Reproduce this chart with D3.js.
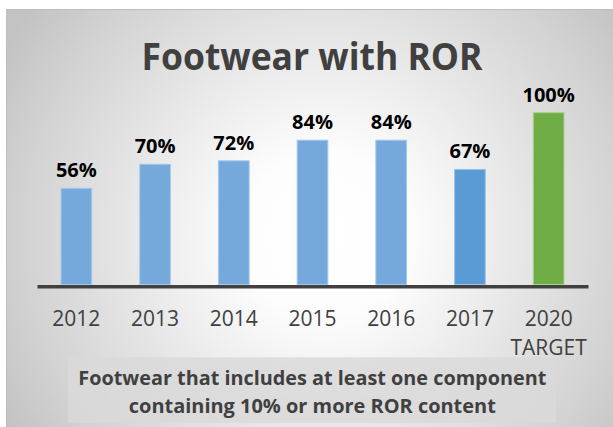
<!DOCTYPE html>
<html><head><meta charset="utf-8">
<script src="https://cdn.jsdelivr.net/npm/d3@7"></script>
<style>
html,body{margin:0;padding:0;background:#fff;}
svg{display:block;}
</style></head>
<body>
<svg id="chart" width="613" height="427"></svg>
<script>
const categories = ["2012","2013","2014","2015","2016","2017","2020 TARGET"];
const values = [0.56, 0.70, 0.72, 0.84, 0.84, 0.67, 1.00];
const barColors = ["#75a9db","#75a9db","#75a9db","#75a9db","#75a9db","#5b9bd5","#70ad47"];
const barStrokes = ["#a6c9ea","#a6c9ea","#a6c9ea","#a6c9ea","#a6c9ea","#9dc3e6","#a9d18e"];
const titleText = "Footwear with ROR";
const subtitleLines = ["Footwear that includes at least one component","containing 10% or more ROR content"];

const svg = d3.select("#chart");
const W = 613, H = 427;
const font = "'Open Sans', 'Noto Sans', sans-serif";

// background
const defs = svg.append("defs");
const rg = defs.append("radialGradient").attr("id","bg")
  .attr("gradientUnits","userSpaceOnUse")
  .attr("cx",325).attr("cy",235).attr("r",370);
[[0,"#ffffff"],[0.22,"#fdfdfd"],[0.5,"#e9e9e9"],[0.82,"#d2d2d2"],[1,"#c3c3c3"]]
  .forEach(([o,c]) => rg.append("stop").attr("offset",o).attr("stop-color",c));

svg.append("rect").attr("x",6.5).attr("y",9.5).attr("width",W).attr("height",H)
  .attr("fill","url(#bg)").attr("stroke","#bdbdbd").attr("stroke-width",1);

// title
svg.append("text").attr("x",312).attr("y",70)
  .attr("text-anchor","middle")
  .attr("font-family",font).attr("font-weight",700).attr("font-size",37)
  .attr("fill","#404040")
  .attr("textLength",341).attr("lengthAdjust","spacingAndGlyphs")
  .text(titleText);

// scales
const x = d3.scaleBand().domain(categories).range([37,588]).paddingInner(0.61).paddingOuter(0.305);
const y = d3.scaleLinear().domain([0,1]).range([284.5,112.7]);

// bars
svg.append("g").selectAll("rect").data(values).join("rect")
  .attr("x",(d,i)=>x(categories[i]))
  .attr("width",x.bandwidth())
  .attr("y",d=>y(d))
  .attr("height",d=>y(0)-y(d))
  .attr("fill",(d,i)=>barColors[i])
  .attr("stroke",(d,i)=>barStrokes[i])
  .attr("stroke-width",1);

// data labels
svg.append("g").selectAll("text").data(values).join("text")
  .attr("x",(d,i)=>x(categories[i])+x.bandwidth()/2)
  .attr("y",d=>y(d)-11)
  .attr("text-anchor","middle")
  .attr("font-family",font).attr("font-weight",700).attr("font-size",20)
  .attr("fill","#000")
  .text(d=>d3.format(".0%")(d));

// axis
const ax = svg.append("g").attr("transform","translate(0,286.2)")
  .call(d3.axisBottom(x).tickSize(0).tickSizeOuter(0));
ax.select(".domain").attr("stroke","#404040").attr("stroke-width",3.6);
ax.selectAll(".tick text").each(function(d){
  const t = d3.select(this);
  const parts = d.split(" ");
  t.text(null).attr("y",39.5).attr("dy",null)
    .attr("font-family",font).attr("font-size",21).attr("fill","#404040");
  parts.forEach((p,k)=>{
    t.append("tspan").attr("x",0).attr("dy",k===0?0:29.3).text(p);
  });
});

// subtitle box
svg.append("rect").attr("x",68.3).attr("y",357.3).attr("width",488).attr("height",65.5)
  .attr("fill","#d9d9d9").attr("fill-opacity",0.85);
const lineWidths = [468, 367];
const lineY = [385, 413.3];
subtitleLines.forEach((s,i)=>{
  svg.append("text").attr("x",312.3).attr("y",lineY[i])
    .attr("text-anchor","middle")
    .attr("font-family",font).attr("font-weight",700).attr("font-size",20)
    .attr("fill","#404040")
    .attr("textLength",lineWidths[i]).attr("lengthAdjust","spacingAndGlyphs")
    .text(s);
});
</script>
</body></html>
